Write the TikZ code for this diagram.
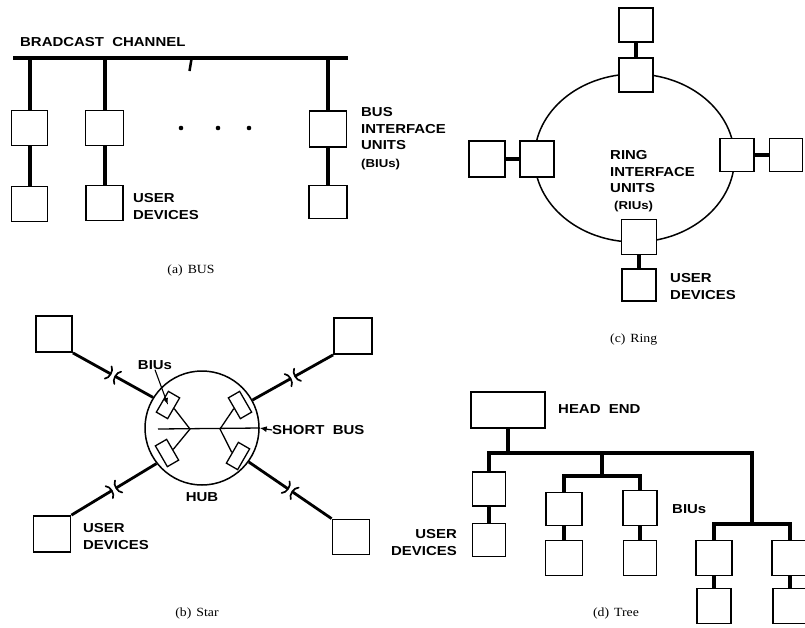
\documentclass[tikz,border=0pt]{standalone}
\usepackage{fontspec}
\newfontfamily\labfont{Liberation Sans}[FakeStretch=1.15]
\newfontfamily\capfont{Liberation Serif}[FakeStretch=1.1]
\usetikzlibrary{calc,arrows.meta,shapes.geometric}
\tikzset{
  bx/.style={draw, line width=1.8pt, inner sep=0pt, fill=white},
  sz/.style 2 args={minimum width=#1pt, minimum height=#2pt},
  lab/.style={font=\labfont\bfseries\fontsize{13}{16.5}\selectfont, inner sep=0pt},
  capt/.style={font=\capfont\fontsize{12.5}{14}\selectfont, inner sep=0pt},
  wire/.style={line width=4pt},
  ringwire/.style={line width=4.5pt},
  spk/.style={line width=2.8pt},
  brkarc/.style={line width=1.7pt, line cap=round},
  thinl/.style={line width=1.3pt},
  hubr/.style={draw, line width=1.3pt, inner sep=0pt, fill=white, minimum width=24pt, minimum height=13pt},
}
\newcommand\starspoke[3]{%
  \coordinate (#3m) at ($(#1)!0.5!(#2)$);
  \coordinate (#3p) at ($(#3m)!5.5pt!(#1)$);
  \coordinate (#3q) at ($(#3m)!5.5pt!(#2)$);
  \coordinate (#3c) at ($(#3p)!4pt!(#3m)$);
  \coordinate (#3d) at ($(#3q)!4pt!(#3m)$);
  \coordinate (#3pe) at ($(#3m)!2.5pt!(#1)$);
  \coordinate (#3qe) at ($(#3m)!2.5pt!(#2)$);
  \draw[spk] (#1) -- (#3pe);
  \draw[spk] (#3qe) -- (#2);
  \draw[brkarc] ($(#3p)!7pt!90:(#3m)$) .. controls ($(#3c)!4.5pt!90:(#3m)$) and ($(#3c)!4.5pt!-90:(#3m)$) .. ($(#3p)!7pt!-90:(#3m)$);
  \draw[brkarc] ($(#3q)!7pt!90:(#3m)$) .. controls ($(#3d)!4.5pt!90:(#3m)$) and ($(#3d)!4.5pt!-90:(#3m)$) .. ($(#3q)!7pt!-90:(#3m)$);
}
\begin{document}
\begin{tikzpicture}[x=1pt,y=-1pt]
\clip (0,0) rectangle (805,627);
\fill[white] (0,0) rectangle (805,627);

% ================= (a) BUS =================
\node[lab, anchor=west] (bcl) at (20,42) {BRADCAST\ \ CHANNEL};
\coordinate (chL) at (13,58);
\coordinate (chR) at (348,58);
\draw[line width=3.5pt] (chL) -- (chR);
\draw[line width=2.5pt] (191.5,59) -- (189.5,71);

\node[bx, sz={36}{35}] (b1) at (29.5,128) {};
\node[bx, sz={38}{35}] (b2) at (104.5,128) {};
\node[bx, sz={37}{36}] (b3) at (328,129) {};
\node[bx, sz={36}{35}] (u1) at (29.5,204) {};
\node[bx, sz={37}{35}] (u2) at (104.5,203) {};
\node[bx, sz={38}{33}] (u3) at (328,202) {};

\foreach \b/\u in {b1/u1,b2/u2,b3/u3}{
  \draw[wire] (\b.north |- chL) -- (\b.north);
  \draw[wire] (\b.south) -- (\u.north);
}
\foreach \x in {181,218,249} \fill (\x,128) circle[radius=2.3pt];

\node[lab, anchor=north west, align=left] (udA) at (133,193.3) {USER\\DEVICES};
\node[lab, anchor=north west, align=left] (biuA) at (361,107.3)
  {BUS\\INTERFACE\\UNITS\\[1pt]{\fontsize{11.5}{13}\selectfont (BIUs)}};
\node[capt] (capA) at (191,270) {(a)\hspace{5pt}BUS};

% ================= (c) RING =================
\node[draw, ellipse, line width=1.5pt, minimum width=200pt, minimum height=168pt, inner sep=0pt] (ring) at (634.5,158) {};
\node[bx, sz={34}{34}] (rt) at (636,75) {};
\node[bx, sz={34}{34}] (ut) at (636,25) {};
\node[bx, sz={34}{36}] (rl) at (537,159) {};
\node[bx, sz={36}{36}] (ul) at (487,159) {};
\node[bx, sz={34}{33}] (rr) at (737,155) {};
\node[bx, sz={33}{33}] (ur) at (786,155) {};
\node[bx, sz={35}{35}] (rb) at (639,237) {};
\node[bx, sz={34}{32}] (ub) at (639,285) {};
\draw[ringwire] (rt.north) -- (ut.south);
\draw[ringwire] (rl.west) -- (ul.east);
\draw[ringwire] (rr.east) -- (ur.west);
\draw[ringwire] (rb.south) -- (ub.north);

\node[lab, anchor=north west, align=left] (riu) at (610,150.3)
  {RING\\INTERFACE\\UNITS\\[0pt]\hspace*{4pt}{\fontsize{11.5}{13}\selectfont (RIUs)}};
\node[lab, anchor=north west, align=left] (udC) at (670,273.3) {USER\\DEVICES};
\node[capt, anchor=west] (capC) at (610,340) {(c)\hspace{5pt}Ring};

% ================= (b) STAR =================
\node[draw, circle, line width=1.5pt, minimum size=114pt, inner sep=0pt] (hub) at (202,428) {};
\node[hubr, rotate=60]  (h1) at (168,405) {};
\node[hubr, rotate=-60] (h2) at (240,405) {};
\node[hubr, rotate=-60] (h3) at (167,453) {};
\node[hubr, rotate=60]  (h4) at (238,456) {};
\coordinate (sbL) at (158,429);
\coordinate (vL) at (190,429);
\coordinate (vR) at (220,429);
\draw[thinl] (sbL) -- (hub.east);
\draw[thinl] (h1.south) -- (vL) -- (h3.north);
\draw[thinl] (h2.south) -- (vR) -- (h4.north);

\node[bx, sz={36}{36}] (utl) at (54,334) {};
\node[bx, sz={38}{36}] (utr) at (353,336) {};
\node[bx, sz={37}{36}] (ubl) at (52,534) {};
\node[bx, sz={37}{35}] (ubr) at (351,537) {};

\starspoke{utl.south east}{hub.148}{s1}
\starspoke{utr.south west}{hub.29}{s2}
\starspoke{ubl.north east}{hub.218}{s3}
\starspoke{ubr.north west}{hub.324}{s4}

\node[lab] (biuB) at (155,365) {BIUs};
\draw[line width=1.1pt, -{Latex[length=7pt,width=5pt]}] (biuB.south) -- (h1.center);
\node[lab, anchor=west] (sbus) at (272,430) {SHORT\ \ BUS};
\draw[line width=1.2pt, -{Latex[length=7pt,width=6pt]}] (sbus.west) -- (hub.east);
\node[lab] (hubl) at (202,497) {HUB};
\node[lab, anchor=north west, align=left] (udB) at (83,523.3) {USER\\DEVICES};
\node[capt] (capB) at (197,613) {(b)\hspace{5pt}Star};

% ================= (d) TREE =================
\node[bx, sz={74}{36}] (he) at (508,410) {};
\node[lab, anchor=west] (hel) at (558,409) {HEAD\ \ END};
\node[bx, sz={33}{34}] (t1) at (489,489) {};
\node[bx, sz={33}{33}] (tu1) at (489,540) {};
\node[bx, sz={36}{33}] (t2) at (564,509) {};
\node[bx, sz={37}{35}] (tu2) at (564,558) {};
\node[bx, sz={34}{35}] (t3) at (640,508) {};
\node[bx, sz={33}{35}] (tu3) at (640,558) {};
\node[bx, sz={36}{35}] (t4) at (714,558) {};
\node[bx, sz={34}{35}] (tu4) at (714,606) {};
\node[bx, sz={36}{35}] (t5) at (790,558) {};
\node[bx, sz={34}{35}] (tu5) at (790,606) {};

\coordinate (j1) at (752,453);
\coordinate (j2) at (752,524);
\coordinate (j3) at (602,453);
\coordinate (j4) at (602,476);
\draw[wire] (he.south) -- (he.south |- j1);
\draw[wire] (t1.north) -- (t1.north |- j1) -- (j1) -- (j2);
\draw[wire] (j3) -- (j4);
\draw[wire] (t2.north) -- (t2.north |- j4) -- (t3.north |- j4) -- (t3.north);
\draw[wire] (t4.north) -- (t4.north |- j2) -- (t5.north |- j2) -- (t5.north);
\foreach \b/\u in {t1/tu1,t2/tu2,t3/tu3,t4/tu4,t5/tu5}
  \draw[wire] (\b.south) -- (\u.north);

\node[lab, anchor=west] (biuD) at (672,509) {BIUs};
\node[lab, anchor=north east, align=right] (udD) at (457,529.3) {USER\\DEVICES};
\node[capt] (capD) at (616,613) {(d)\hspace{5pt}Tree};
\end{tikzpicture}
\end{document}
